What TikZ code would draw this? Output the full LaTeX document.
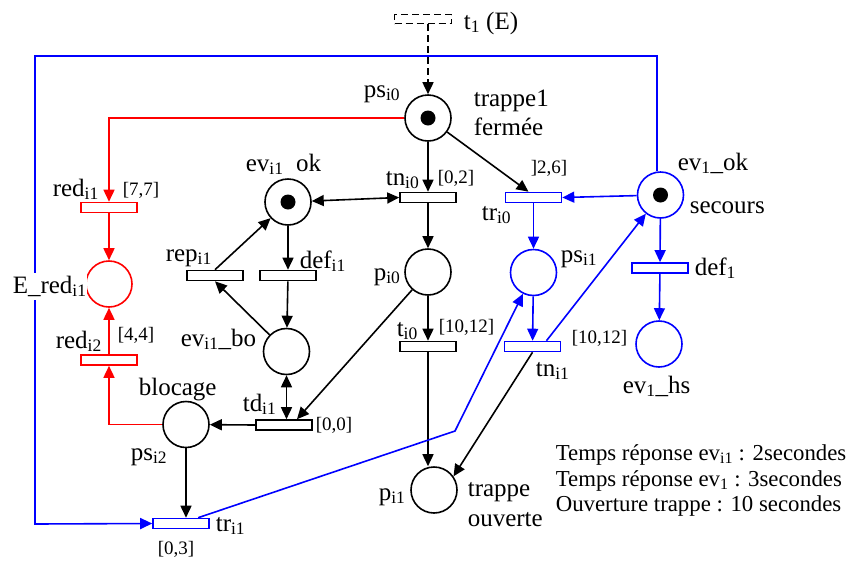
\documentclass[tikz,border=0pt]{standalone}
\usepackage{fontspec}
\setmainfont{Liberation Serif}
\usetikzlibrary{arrows.meta,calc}
\newcommand\sbs[1]{\textsubscript{#1}}
\begin{document}
\begin{tikzpicture}[x=1pt,y=-1pt,line width=1.6pt,
  place/.style={circle,draw,minimum size=46pt,inner sep=0pt},
  tok/.style={path picture={\fill[black] (path picture bounding box.center) circle (7.5pt);}},
  trans/.style={rectangle,draw,minimum width=56pt,minimum height=10pt,inner sep=0pt},
  arr/.style={-{Triangle[length=12pt,width=11pt]}},
  darr/.style={{Triangle[length=12pt,width=11pt]}-{Triangle[length=12pt,width=11pt]}},
  lbl/.style={inner sep=0pt,anchor=base west,font=\fontsize{25}{28}\selectfont},
  sml/.style={inner sep=0pt,anchor=base west,font=\fontsize{19}{22}\selectfont},
  leg/.style={inner sep=0pt,anchor=base west,font=\fontsize{22.8}{26}\selectfont}]
\useasboundingbox (0,0) rectangle (852,563);

% places
\node[place,tok] (psi0) at (428,118) {};
\node[place,tok] (evi1) at (288,202) {};
\node[place] (pi0) at (428,272) {};
\node[place] (pi1) at (434,490) {};
\node[place] (evbo) at (286.5,351.5) {};
\node[place] (psi2) at (186,424.5) {};
\node[place,red] (Ered) at (109,284) {};
\node[place,blue] (psi1) at (533.5,272.5) {};
\node[place,blue,tok] (ev1) at (660.5,195) {};
\node[place,blue] (ev1hs) at (659,344) {};

% transitions
\node[trans] (tni0) at (428,197.5) {};
\node[trans] (ti0) at (428,346.5) {};
\node[trans] (repi1) at (215,275.5) {};
\node[trans] (defi1) at (288,275.5) {};
\node[trans] (tdi1) at (284,425) {};
\node[trans,red] (redi1) at (109,207.5) {};
\node[trans,red] (redi2) at (109,360) {};
\node[trans,blue] (tri1) at (181,523.5) {};
\node[trans,blue] (tri0) at (533.5,197.5) {};
\node[trans,blue] (tni1) at (532.5,346.5) {};
\node[trans,blue] (def1) at (660,268) {};

% dashed t1
\node[draw,dashed,dash pattern=on 7pt off 4pt,minimum width=57pt,minimum height=9pt,inner sep=0pt] (t1) at (423,19) {};
\draw[dashed,dash pattern=on 7pt off 4pt,arr] (psi0.north |- t1.south) -- (psi0.north);

% black arcs
\draw[arr] (psi0) -- (tni0);
\draw[arr] (tni0) -- (pi0);
\draw[arr] (pi0) -- (ti0);
\draw[arr] (ti0.south) -- (ti0.south |- pi1.north);
\draw[arr] (psi0) -- ($(tri0.north)+(-5,0)$);
\draw[darr] (evi1) -- (tni0.west);
\draw[arr] (evi1) -- (defi1);
\draw[arr] (defi1) -- (evbo);
\draw[arr] (evbo) -- (repi1.south);
\draw[arr] (repi1.north) -- (evi1);
\draw[darr] (evbo.south) -- (evbo.south |- tdi1.north);
\draw[arr] (pi0) -- ($(tdi1.north)+(13,0)$);
\draw[arr] (tdi1.west) -- (psi2);
\draw[arr] (psi2.south) -- (psi2.south |- tri1.north);
\draw[arr] (tni1.south) -- (pi1.35);

% red arcs
\draw[red,arr] (psi0.west) -| (redi1.north);
\draw[red,arr] (redi1) -- (Ered);
\draw[red,arr] (redi2) -- (Ered);
\draw[red,arr] (psi2.west) -| (redi2.south);

% blue arcs
\coordinate (bTR) at (657,56);
\coordinate (bTL) at (35,56);
\coordinate (bBL) at (35,524);
\coordinate (bend) at (455,431);
\draw[blue,arr] (ev1.north -| bTR) -- (bTR) -- (bTL) -- (bBL) -- (tri1.west);
\draw[blue,arr] (tri1) -- (bend) -- (psi1);
\draw[blue,arr] ($(tni1.north)+(14,0)$) -- (ev1);
\draw[blue,arr] (ev1) -- (tri0.east);
\draw[blue,arr] (tri0) -- (psi1);
\draw[blue,arr] (psi1) -- (tni1);
\draw[blue,arr] (ev1) -- (def1);
\draw[blue,arr] (def1) -- (ev1hs);

% labels
\node[lbl] (lt1) at (463,29) {t\sbs{1} (E)};
\node[lbl] (lpsi0) at (363,97) {ps\sbs{i0}};
\node[lbl] (ltr1) at (473,106) {trappe1};
\node[lbl] (lfer) at (473,135) {fermée};
\node[lbl] (levi1) at (245,171) {ev\sbs{i1}\ \ ok};
\node[lbl] (lredi1) at (52,196) {red\sbs{i1}};
\node[sml] (l77) at (122,195) {[7,7]};
\node[lbl] (ltni0) at (385,185) {tn\sbs{i0}};
\node[sml] (l02) at (437,183.5) {[0,2]};
\node[sml] (l26) at (530,173.5) {]2,6]};
\node[lbl] (lev1ok) at (677,170) {ev\sbs{1}\_ok};
\node[lbl] (lsec) at (689,213) {secours};
\node[lbl] (ltri0) at (481,220) {tr\sbs{i0}};
\node[lbl] (lpsi1) at (560,262) {ps\sbs{i1}};
\node[lbl] (ldef1) at (694,275) {def\sbs{1}};
\node[sml] (l1012r) at (571,343) {[10,12]};
\node[sml] (l1012l) at (438,332.5) {[10,12]};
\node[lbl] (ltni1) at (535,376) {tn\sbs{i1}};
\node[lbl] (lev1hs) at (622,393) {ev\sbs{1}\_hs};
\node[lbl] (lti0) at (396,336) {t\sbs{i0}};
\node[lbl] (lpi0) at (373,280) {p\sbs{i0}};
\node[lbl] (ldefi1) at (299,268) {def\sbs{i1}};
\node[lbl] (lrepi1) at (165,261) {rep\sbs{i1}};
\node[lbl,fill=white,inner ysep=3pt] (lEred) at (12,293) {E\_red\sbs{i1}};
\node[lbl] (lredi2) at (55,348) {red\sbs{i2}};
\node[sml] (l44) at (117,340.5) {[4,4]};
\node[lbl] (levbo) at (180,346) {ev\sbs{i1}\_bo};
\node[lbl] (lbloc) at (138,395) {blocage};
\node[lbl] (lpsi2) at (130,460) {ps\sbs{i2}};
\node[lbl] (ltdi1) at (242,411) {td\sbs{i1}};
\node[sml] (l00) at (315,430) {[0,0]};
\node[lbl] (ltri1) at (215,531) {tr\sbs{i1}};
\node[sml] (l03) at (157,554.5) {[0,3]};
\node[lbl] (lpi1) at (378,500) {p\sbs{i1}};
\node[lbl] (ltrap) at (467,496) {trappe};
\node[lbl] (louv) at (467,526) {ouverte};
\node[leg] (leg1) at (555,460) {Temps réponse ev\sbs{i1} : 2secondes};
\node[leg] (leg2) at (555,486) {Temps réponse ev\sbs{1} : 3secondes};
\node[leg] (leg3) at (555,511) {Ouverture trappe : 10 secondes};
\end{tikzpicture}
\end{document}
